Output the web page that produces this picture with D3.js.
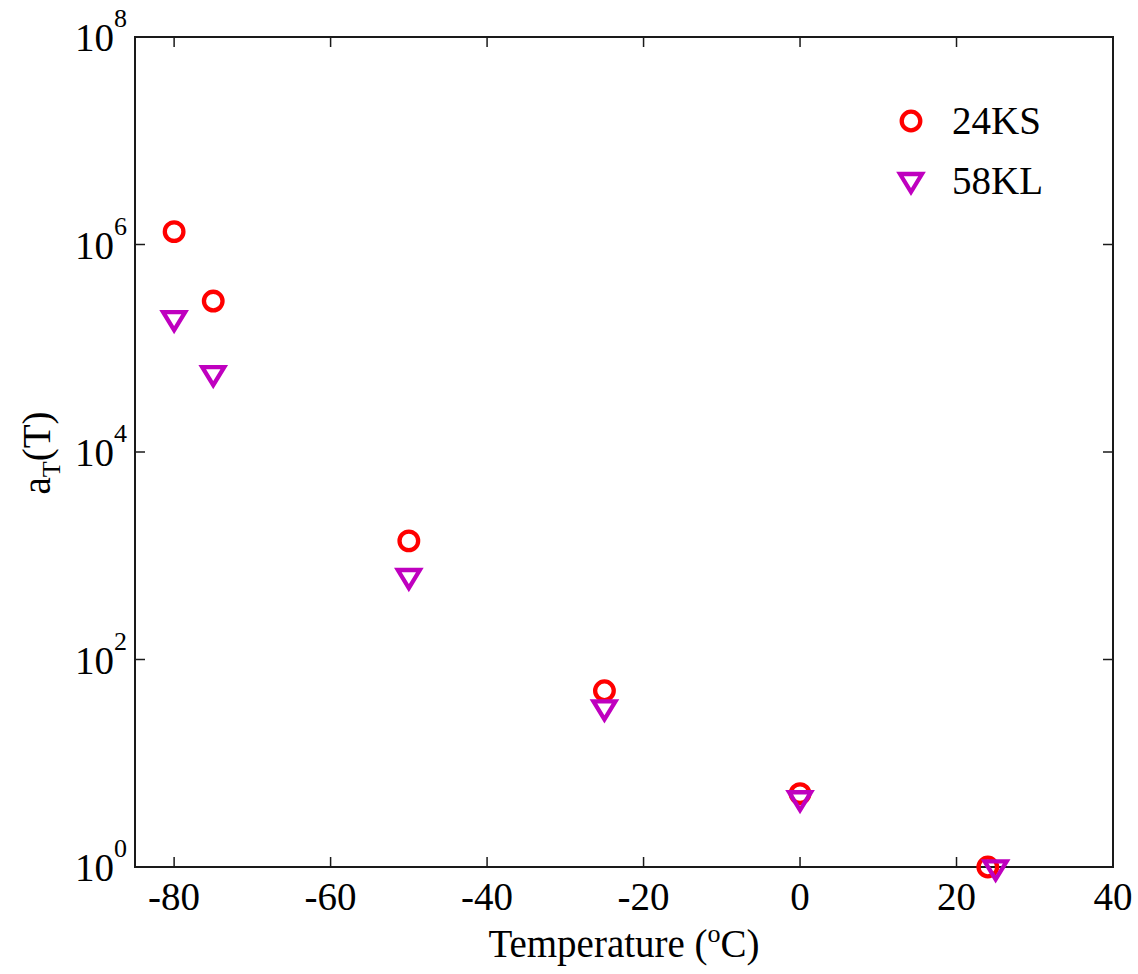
<!DOCTYPE html>
<html>
<head>
<meta charset="utf-8">
<script src="https://cdn.jsdelivr.net/npm/d3@7"></script>
<style>
  body { margin: 0; background: #fff; }
  svg { display: block; }
  text { font-family: "Liberation Serif", "Times New Roman", serif; fill: #000; }
</style>
</head>
<body>
<svg id="chart" width="1138" height="974"></svg>
<script>
// Shift factor a_T(T) versus temperature for two materials
const temps24KS = [-80, -75, -50, -25, 0, 24];
const aT24KS = [1.33e6, 2.85e5, 1390, 50, 5.1, 1.0];
const temps58KL = [-80, -75, -50, -25, 0, 25];
const aT58KL = [1.87e5, 5.5e4, 610, 33, 4.4, 0.95];

const xTicks = [-80, -60, -40, -20, 0, 20, 40];
const yTickExps = [0, 2, 4, 6, 8];

const seriesNames = ["24KS", "58KL"];

const margin = { left: 135, right: 1113, top: 37, bottom: 867 };
const svg = d3.select("#chart");

const x = d3.scaleLinear().domain([-85, 40]).range([margin.left, margin.right]);
const y = d3.scaleLog().domain([1, 1e8]).range([margin.bottom, margin.top]);

const axisColor = "#1a1a1a";
const tickLen = 10;
const fontSize = 39;
const supSize = 26;

// Ticks pointing inward on all four sides
const tg = svg.append("g").attr("stroke", axisColor).attr("stroke-width", 1.5);
xTicks.forEach(t => {
  const px = x(t);
  tg.append("line").attr("x1", px).attr("x2", px).attr("y1", margin.bottom).attr("y2", margin.bottom - tickLen);
  tg.append("line").attr("x1", px).attr("x2", px).attr("y1", margin.top).attr("y2", margin.top + tickLen);
});
yTickExps.forEach(e => {
  const py = y(Math.pow(10, e));
  tg.append("line").attr("x1", margin.left).attr("x2", margin.left + tickLen).attr("y1", py).attr("y2", py);
  tg.append("line").attr("x1", margin.right).attr("x2", margin.right - tickLen).attr("y1", py).attr("y2", py);
});

// Frame
svg.append("rect")
  .attr("x", margin.left).attr("y", margin.top)
  .attr("width", margin.right - margin.left).attr("height", margin.bottom - margin.top)
  .attr("fill", "none").attr("stroke", axisColor).attr("stroke-width", 2);

// X tick labels
xTicks.forEach(t => {
  svg.append("text")
    .attr("x", x(t)).attr("y", 910)
    .attr("text-anchor", "middle")
    .attr("font-size", fontSize)
    .text(t);
});

// Y tick labels: 10 with superscript exponent
yTickExps.forEach(e => {
  const py = y(Math.pow(10, e));
  svg.append("text")
    .attr("x", 114).attr("y", py + 14)
    .attr("text-anchor", "end")
    .attr("font-size", fontSize)
    .text("10");
  svg.append("text")
    .attr("x", 114).attr("y", py - 10)
    .attr("font-size", supSize)
    .text(e);
});

// Axis titles
const xl = svg.append("text")
  .attr("x", 624).attr("y", 957)
  .attr("text-anchor", "middle")
  .attr("font-size", fontSize);
xl.append("tspan").text("Temperature (");
xl.append("tspan").attr("font-size", supSize).attr("dy", -15).text("o");
xl.append("tspan").attr("dy", 15).text("C)");

const yl = svg.append("text")
  .attr("transform", "translate(50,453) rotate(-90)")
  .attr("text-anchor", "middle")
  .attr("font-size", fontSize);
yl.append("tspan").text("a");
yl.append("tspan").attr("font-size", supSize).attr("dy", 10).text("T");
yl.append("tspan").attr("dy", -10).text("(T)");

// Markers
const red = "#ff0000";
const purple = "#bf00bf";
const markerStroke = 4.3;
const triPath = "M-11,-8 L11,-8 L0,10 Z";

const plot = svg.append("g");
plot.selectAll("circle.s24")
  .data(d3.zip(temps24KS, aT24KS))
  .join("circle")
  .attr("class", "s24")
  .attr("cx", d => x(d[0])).attr("cy", d => y(d[1]))
  .attr("r", 9.3)
  .attr("fill", "none").attr("stroke", red).attr("stroke-width", markerStroke);

plot.selectAll("path.s58")
  .data(d3.zip(temps58KL, aT58KL))
  .join("path")
  .attr("class", "s58")
  .attr("transform", d => `translate(${x(d[0])},${y(d[1])})`)
  .attr("d", triPath)
  .attr("fill", "none").attr("stroke", purple).attr("stroke-width", markerStroke)
  .attr("stroke-linejoin", "miter");

// Legend
const lg = svg.append("g");
lg.append("circle").attr("cx", 911).attr("cy", 121).attr("r", 9.3)
  .attr("fill", "none").attr("stroke", red).attr("stroke-width", markerStroke);
lg.append("text").attr("x", 952).attr("y", 134).attr("font-size", fontSize).text(seriesNames[0]);
lg.append("path").attr("transform", "translate(911,182)").attr("d", triPath)
  .attr("fill", "none").attr("stroke", purple).attr("stroke-width", markerStroke);
lg.append("text").attr("x", 952).attr("y", 194).attr("font-size", fontSize).text(seriesNames[1]);
</script>
</body>
</html>
